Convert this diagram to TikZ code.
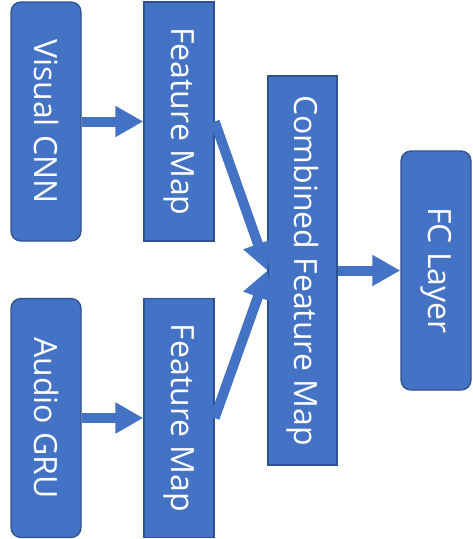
\documentclass[tikz,border=0pt]{standalone}
\usepackage{fontspec}
\setmainfont{Open Sans}
\usetikzlibrary{arrows.meta}
\definecolor{boxfill}{HTML}{4472C4}
\definecolor{boxline}{HTML}{2F528F}

\begin{document}
\begin{tikzpicture}[x=0.75pt, y=-0.75pt,
  every node/.style={font=\fontsize{24}{28}\selectfont, text=white},
  layer/.style={draw=boxline, fill=boxfill, line width=1pt, inner sep=0pt,
    minimum width=52.5pt, minimum height=179.25pt, rounded corners=7.5pt},
  fmap/.style={layer, sharp corners},
  flow/.style={-{Triangle[length=21pt, width=22pt]}, line width=7.5pt, draw=boxfill}]
  \useasboundingbox (0,0) rectangle (472,539);

  % inputs
  \node[layer] (cnn) at (46,121.5) {\rotatebox{-90}{Visual CNN}};
  \node[layer] (gru) at (46,418) {\rotatebox{-90}{Audio GRU}};

  % feature maps
  \node[fmap] (fmtop) at (179,121.5) {\rotatebox{-90}{Feature Map}};
  \node[fmap] (fmbot) at (179,418) {\rotatebox{-90}{Feature Map}};
  \node[fmap, minimum width=51.75pt, minimum height=291.75pt] (comb) at (302.5,270.5) {\rotatebox{-90}{Combined Feature Map}};

  % output
  \node[layer] (fc) at (436,270.5) {\rotatebox{-90}{FC Layer}};

  \draw[flow] (cnn.east) -- (fmtop.west);
  \draw[flow] (gru.east) -- (fmbot.west);
  \draw[flow] (fmtop.east) -- (comb.west);
  \draw[flow] (fmbot.east) -- (comb.west);
  \draw[flow] (comb.east) -- (fc.west);
\end{tikzpicture}
\end{document}
